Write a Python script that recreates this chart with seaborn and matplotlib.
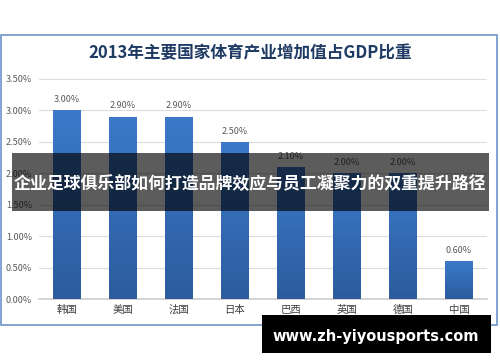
import matplotlib
matplotlib.use("Agg")
import matplotlib.pyplot as plt
import matplotlib.ticker as mticker
from matplotlib.patches import Rectangle
from matplotlib.colors import LinearSegmentedColormap
import numpy as np
import pandas as pd
import seaborn as sns

countries = ["韩国", "美国", "法国", "日本", "巴西", "英国", "德国", "中国"]
share_pct = [3.00, 2.90, 2.90, 2.50, 2.10, 2.00, 2.00, 0.60]
title = "2013年主要国家体育产业增加值占GDP比重"
banner = "企业足球俱乐部如何打造品牌效应与员工凝聚力的双重提升路径"
site = "www.zh-yiyousports.com"

sns.set_theme(style="white")
plt.rcParams["font.family"] = ["Noto Sans CJK SC", "DejaVu Sans"]

df = pd.DataFrame({"country": countries, "share": share_pct})

fig = plt.figure(figsize=(5, 3.62), dpi=100)
fig.patch.set_facecolor("white")
ax = fig.add_axes([0.078, 0.174, 0.896, 0.608])

sns.barplot(data=df, x="country", y="share", color="#3470c0",
            width=0.5, saturation=1, ax=ax, zorder=3)

# vertical gradient fill like the original office chart
grad_cmap = LinearSegmentedColormap.from_list("bar", ["#2c5c9e", "#3b79c9"])
grad = np.linspace(0, 1, 256).reshape(-1, 1)
xlim = ax.get_xlim()
for p in ax.patches:
    x0, w, h = p.get_x(), p.get_width(), p.get_height()
    im = ax.imshow(grad, extent=[x0, x0 + w, 0, h], origin="lower",
                   aspect="auto", cmap=grad_cmap, zorder=3)
    im.set_clip_path(p)
    p.set_facecolor("none")
    p.set_edgecolor("none")
ax.set_xlim(xlim)

ax.set_ylim(0, 3.5)
ax.yaxis.set_major_locator(mticker.MultipleLocator(0.5))
ax.yaxis.set_major_formatter(mticker.FuncFormatter(lambda v, _: f"{v:.2f}%"))
ax.grid(axis="y", color="#dcdcdc", linewidth=0.8, zorder=0)
for s in ["top", "right", "left"]:
    ax.spines[s].set_visible(False)
ax.spines["bottom"].set_color("#d0d0d0")
ax.tick_params(axis="y", labelsize=6.5, colors="#595959", length=0, pad=5)
ax.tick_params(axis="x", labelsize=7.5, colors="#404040", length=0, pad=4)
ax.set_xlabel(""); ax.set_ylabel("")

for p, v in zip(ax.patches, share_pct):
    ax.text(p.get_x() + p.get_width() / 2, v + 0.1, f"{v:.2f}%",
            ha="center", va="bottom", fontsize=6.5, color="#595959")

# chart frame
fig.patches.append(Rectangle((1 / 500, 1 - 325 / 362), 496 / 500, 290 / 362,
                             transform=fig.transFigure, fill=False,
                             edgecolor="#6d95c8", linewidth=1.2))
fig.text(0.5, 1 - 53 / 362, title, ha="center", va="center",
         fontsize=12, fontweight="bold", color="#1f3b64")

# overlay banners
fig.patches.append(Rectangle((12 / 500, 1 - 211 / 362), 477 / 500, 58 / 362,
                             transform=fig.transFigure, facecolor="black",
                             alpha=0.64, edgecolor="none", zorder=10))
fig.text(250 / 500, 1 - 184 / 362, banner, ha="center", va="center",
         fontsize=12.2, fontweight="bold", color="white", zorder=11)

fig.patches.append(Rectangle((262 / 500, 1 - 353 / 362), 229 / 500, 38 / 362,
                             transform=fig.transFigure, facecolor="black",
                             edgecolor="none", zorder=10))
fig.text(376 / 500, 1 - 336 / 362, site, ha="center", va="center",
         fontsize=10.5, fontweight="bold", color="white", zorder=11,
         family=["DejaVu Sans"])

fig.savefig("out.png", dpi=100)
